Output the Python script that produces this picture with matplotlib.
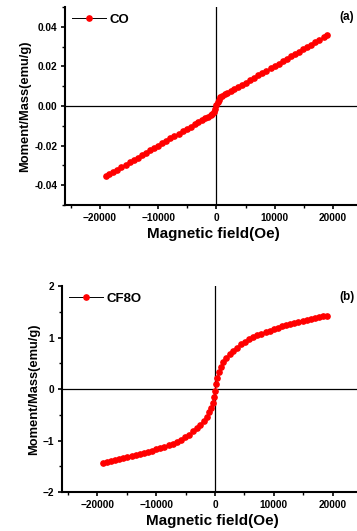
import matplotlib
matplotlib.use("Agg")
import matplotlib.pyplot as plt
from matplotlib.ticker import MultipleLocator

plt.rcParams['font.family'] = ['Liberation Sans', 'DejaVu Sans']
plt.rcParams['font.weight'] = 'bold'

# field (Oe)
field = [-19000, -18400, -17700, -17000, -16300, -15600, -14900, -14200, -13500, -12800,
         -12100, -11400, -10700, -10000, -9300, -8600, -7900, -7200, -6500, -5800,
         -5100, -4400, -3700, -3100, -2500, -1900, -1400, -1000, -700, -400, -200, 0,
         200, 400, 700, 1000, 1400, 1900, 2500, 3100, 3700, 4400, 5100, 5800, 6500,
         7200, 7900, 8600, 9300, 10000, 10700, 11400, 12100, 12800, 13500, 14200,
         14900, 15600, 16300, 17000, 17700, 18400, 19000]

# CO moment (emu/g)
m_co = [-0.0356, -0.0345, -0.0333, -0.0321, -0.0309, -0.0297, -0.0285, -0.0273, -0.0261, -0.0249,
        -0.0237, -0.0225, -0.0213, -0.0200, -0.0188, -0.0176, -0.0164, -0.0152, -0.0140, -0.0128,
        -0.0116, -0.0104, -0.0093, -0.0083, -0.0073, -0.0063, -0.0055, -0.0047, -0.0040, -0.0030, -0.0018, 0.0004,
        0.0020, 0.0032, 0.0043, 0.0050, 0.0058, 0.0066, 0.0076, 0.0085, 0.0095, 0.0106, 0.0118, 0.0130, 0.0142,
        0.0154, 0.0166, 0.0178, 0.0190, 0.0202, 0.0214, 0.0226, 0.0238, 0.0250, 0.0262, 0.0274,
        0.0286, 0.0298, 0.0310, 0.0322, 0.0334, 0.0346, 0.0356]

# CF8O moment (emu/g)
m_cf8o = [-1.44, -1.42, -1.40, -1.38, -1.36, -1.34, -1.32, -1.30, -1.28, -1.26,
          -1.24, -1.22, -1.20, -1.17, -1.15, -1.12, -1.09, -1.06, -1.02, -0.98,
          -0.93, -0.88, -0.82, -0.76, -0.69, -0.61, -0.53, -0.45, -0.37, -0.26, -0.15, -0.04,
          0.10, 0.21, 0.33, 0.43, 0.52, 0.60, 0.68, 0.75, 0.81, 0.87, 0.92, 0.97, 1.01,
          1.05, 1.08, 1.11, 1.14, 1.17, 1.19, 1.22, 1.24, 1.26, 1.28, 1.30,
          1.32, 1.34, 1.36, 1.38, 1.40, 1.42, 1.43]

fig = plt.figure(figsize=(3.57, 5.31), dpi=100)
ax1 = fig.add_axes([0.182, 0.614, 0.832, 0.373])
ax2 = fig.add_axes([0.174, 0.073, 0.840, 0.388])

panels = [(ax1, m_co, "CO", "(a)", (-0.05, 0.05), 0.02, 0.01),
          (ax2, m_cf8o, "CF8O", "(b)", (-2, 2), 1, 0.5)]

for ax, m, lab, tag, ylim, major, minor in panels:
    ax.axhline(0, color='black', lw=0.9, zorder=1)
    ax.axvline(0, color='black', lw=0.9, zorder=1)
    ax.plot(field, m, color='black', lw=0.7, marker='o', ms=3.8,
            mfc='red', mec='red', label=lab, zorder=3)
    ax.set_xlim(-26000, 25000)
    ax.set_ylim(*ylim)
    ax.xaxis.set_major_locator(MultipleLocator(10000))
    ax.xaxis.set_minor_locator(MultipleLocator(5000))
    ax.yaxis.set_major_locator(MultipleLocator(major))
    ax.yaxis.set_minor_locator(MultipleLocator(minor))
    if ax is ax1:
        ax.yaxis.set_major_formatter(plt.FormatStrFormatter('%.2f'))
    ax.tick_params(which='major', direction='out', length=3, width=1.2, labelsize=7.3, pad=2.5)
    ax.tick_params(which='minor', direction='out', length=2, width=1)
    for s in ['top', 'right']:
        ax.spines[s].set_visible(False)
    for s in ['left', 'bottom']:
        ax.spines[s].set_linewidth(1.5)
    ax.set_xlabel("Magnetic field(Oe)", fontsize=11, fontweight='bold', labelpad=3)
    ax.set_ylabel("Moment/Mass(emu/g)", fontsize=9.3, fontweight='bold', labelpad=2)
    ax.legend(loc='upper left', frameon=False, handlelength=2.6, handletextpad=0.3,
              borderaxespad=0.1, prop={'weight': 'bold', 'size': 9.5})
    ax.text(21200, ylim[1] * 0.9, tag, fontsize=8.5, fontweight='bold', va='center')

fig.savefig("out.png", dpi=100)
